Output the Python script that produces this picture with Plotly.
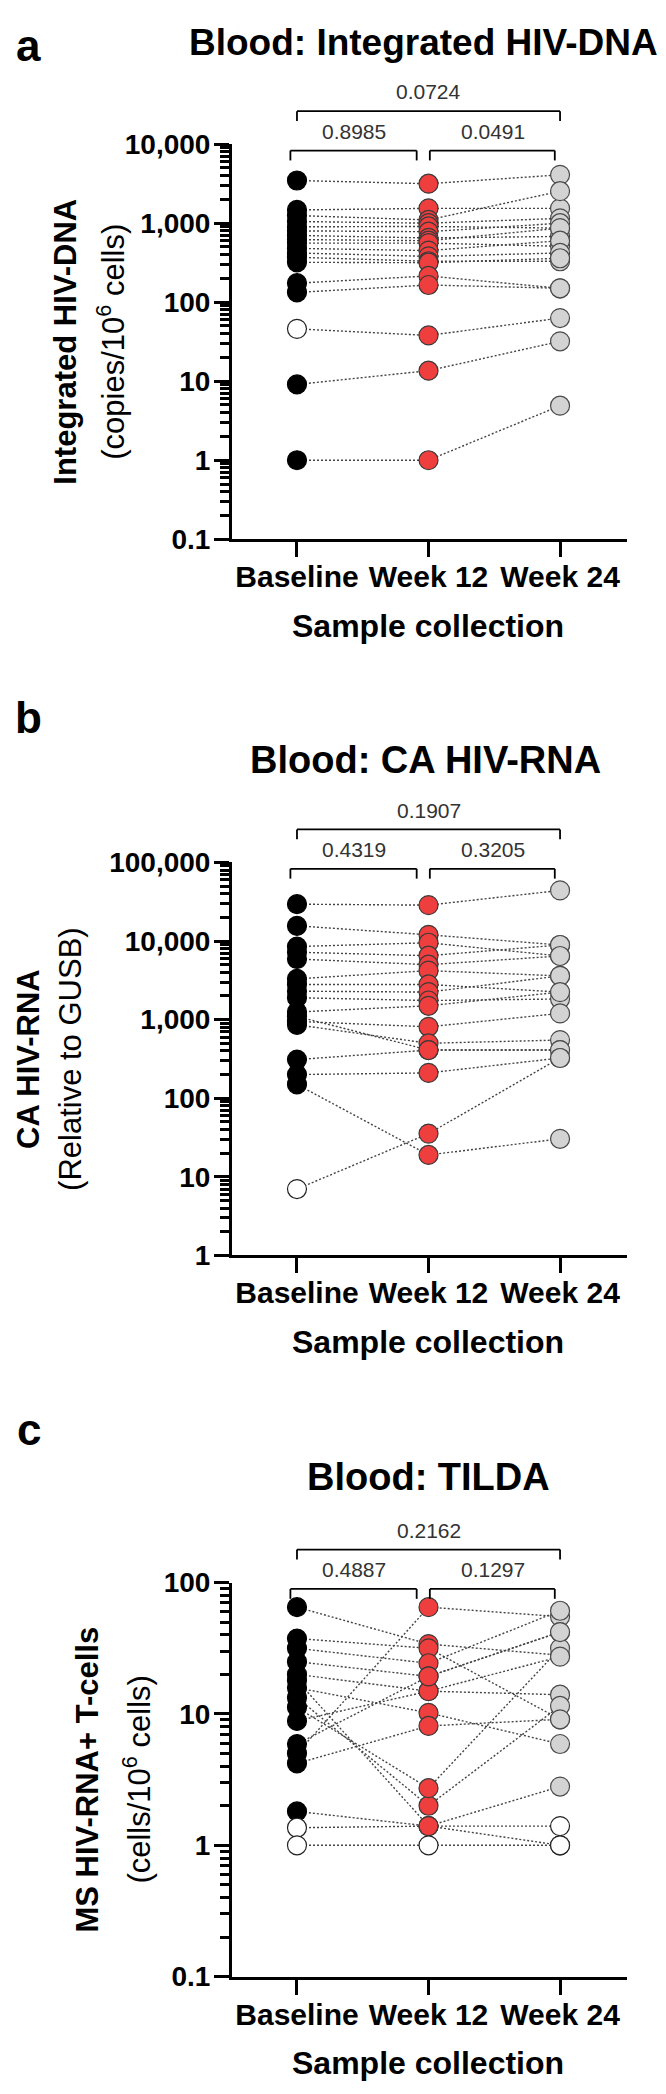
import plotly.graph_objects as go

W, H = 666, 2094
FONT = "Liberation Sans"

categories = ["Baseline", "Week 12", "Week 24"]

# ---------------- Panel a: Integrated HIV-DNA (copies/10^6 cells) ----------------
a_baseline = [3470, 1470, 1250, 1050, 900, 800, 700, 620, 560, 480, 420, 370, 320, 174, 133, 46, 9.1, 1]
a_week12 = [3160, 1540, 1100, 1000, 910, 780, 650, 600, 560, 450, 380, 330, 316, 215, 165, 38, 13.6, 1]
a_week24 = [4090, 1540, 2540, 1150, 866, 1000, 680, 866, 510, 600, 420, 330, 360, 150, 150, 63, 32, 4.9]
a_open = [[15], [], []]          # below detection limit (open symbols), per time point
a_tickvals = [0.1, 1, 10, 100, 1000, 10000]
a_ticktext = ["0.1", "1", "10", "100", "1,000", "10,000"]
a_pvalues = ["0.8985", "0.0491", "0.0724"]   # BL-W12, W12-W24, BL-W24

# ---------------- Panel b: CA HIV-RNA (relative to GUSB) ----------------
b_baseline = [29400, 15600, 8500, 7200, 5900, 3300, 2800, 2300, 1900, 1250, 950, 860, 1100, 310, 200, 150, 7]
b_week12 = [28600, 12000, 9500, 6500, 5000, 4200, 2800, 2240, 1750, 1500, 810, 500, 410, 410, 210, 19, 35.5]
b_week24 = [44000, 8900, 6450, 8900, 6450, 3600, 2240, 3600, 1830, 2240, 1200, 550, 410, 410, 325, 30.5, 325]
b_open = [[16], [], []]
b_tickvals = [1, 10, 100, 1000, 10000, 100000]
b_ticktext = ["1", "10", "100", "1,000", "10,000", "100,000"]
b_pvalues = ["0.4319", "0.3205", "0.1907"]

# ---------------- Panel c: TILDA (cells/10^6 cells) ----------------
c_baseline = [65, 5.0, 37.5, 31.6, 25, 20, 15.8, 13.3, 11.2, 8.85, 4.2, 5.9, 1.81, 1.36, 1.0, 18]
c_week12 = [34, 65, 31.6, 24.3, 19.3, 14.9, 10.2, 2.0, 2.72, 14.9, 8.1, 19.3, 1.40, 1.40, 1.0, 1.40]
c_week24 = [28, 55, 9.1, 61, 42, 14, 5.9, 11.5, 31.6, 27.3, 9.1, 42, 2.8, 1.40, 1.0, 1.0]
c_open = [[13, 14], [14], [13, 14, 15]]
c_tickvals = [0.1, 1, 10, 100]
c_ticktext = ["0.1", "1", "10", "100"]
c_pvalues = ["0.4887", "0.1297", "0.2162"]

panels = [
    dict(letter="a", title="Blood: Integrated HIV-DNA",
         ytitle_bold="Integrated HIV-DNA", ytitle_reg="(copies/10<sup>6</sup> cells)",
         data=[a_baseline, a_week12, a_week24], open=a_open,
         tickvals=a_tickvals, ticktext=a_ticktext, p=a_pvalues,
         yr=[-1, 4], top=123, bottom=524, title_y=20, title_x=415, title_size=37,
         letter_y=23, ybold_x=58, yreg_x=103),
    dict(letter="b", title="Blood: CA HIV-RNA",
         ytitle_bold="CA HIV-RNA", ytitle_reg="(Relative to GUSB)",
         data=[b_baseline, b_week12, b_week24], open=b_open,
         tickvals=b_tickvals, ticktext=b_ticktext, p=b_pvalues,
         yr=[0, 5], top=852, bottom=1251, title_y=748, title_x=418, title_size=38,
         letter_y=705, ybold_x=21, yreg_x=63),
    dict(letter="c", title="Blood: TILDA",
         ytitle_bold="MS HIV-RNA+ T-cells", ytitle_reg="(cells/10<sup>6</sup> cells)",
         data=[c_baseline, c_week12, c_week24], open=c_open,
         tickvals=c_tickvals, ticktext=c_ticktext, p=c_pvalues,
         yr=[-1, 2], top=1583, bottom=1983, title_y=1476, title_x=420, title_size=38,
         letter_y=1428, ybold_x=80, yreg_x=129),
]

fill_colors = ["#000000", "#EE3E3E", "#D3D3D3"]
edge_colors = ["#000000", "#3a3a3a", "#4a4a4a"]

X_LEFT, X_RIGHT = 224, 619
XRANGE = [-0.494, 2.509]


def px(x):
    return x / W


def py(y):
    return 1 - y / H


def minor_vals(lo, hi):
    out = []
    for d in range(lo, hi):
        for m in range(2, 10):
            out.append(m * 10.0 ** d)
    return out


fig = go.Figure()
annotations = []
shapes = []
layout = {}

for k, p in enumerate(panels):
    sfx = "" if k == 0 else str(k + 1)
    xa, ya = "x" + sfx, "y" + sfx
    base, w12, w24 = p["data"]
    # dotted connecting lines, one per participant
    for i in range(len(base)):
        fig.add_trace(go.Scatter(
            x=[0, 1, 2], y=[base[i], w12[i], w24[i]], mode="lines",
            line=dict(color="#444444", width=1.4, dash="2px,2px"),
            xaxis=xa, yaxis=ya, showlegend=False, hoverinfo="skip"))
    # symbols per time point (open = below detection limit)
    for t, vals in enumerate(p["data"]):
        open_idx = set(p["open"][t])
        filled = [v for i, v in enumerate(vals) if i not in open_idx]
        hollow = [v for i, v in enumerate(vals) if i in open_idx]
        fig.add_trace(go.Scatter(
            x=[t] * len(filled), y=filled, mode="markers",
            marker=dict(size=19, color=fill_colors[t],
                        line=dict(color=edge_colors[t], width=1.2)),
            xaxis=xa, yaxis=ya, showlegend=False, name=categories[t]))
        if hollow:
            fig.add_trace(go.Scatter(
                x=[t] * len(hollow), y=hollow, mode="markers",
                marker=dict(size=19, color="white",
                            line=dict(color="#222222", width=1.2)),
                xaxis=xa, yaxis=ya, showlegend=False, name=categories[t]))

    layout["xaxis" + sfx] = dict(
        domain=[px(X_LEFT), px(X_RIGHT)], anchor=ya, range=XRANGE,
        tickmode="array", tickvals=[0, 1, 2], ticktext=categories,
        ticks="outside", ticklen=15, tickwidth=3, tickcolor="black",
        showline=True, linewidth=3, linecolor="black",
        showgrid=False, zeroline=False, ticklabelstandoff=-6,
        tickfont=dict(family=FONT, size=30, color="black", weight="bold"))
    layout["yaxis" + sfx] = dict(
        domain=[py(p["bottom"]), py(p["top"])], anchor=xa, type="log",
        range=p["yr"], tickmode="array", tickvals=p["tickvals"], ticktext=p["ticktext"],
        ticks="outside", ticklen=15, tickwidth=3, tickcolor="black",
        showline=True, linewidth=3, linecolor="black",
        showgrid=False, zeroline=False, ticklabelstandoff=-2,
        tickfont=dict(family=FONT, size=28, color="black", weight="bold"),
        minor=dict(ticks="outside", ticklen=9, tickwidth=2.5, tickcolor="black",
                   tickmode="array", tickvals=minor_vals(p["yr"][0], p["yr"][1]),
                   showgrid=False))

    annotations.append(dict(text="<b>%s</b>" % p["letter"], x=px(21), y=py(p["letter_y"]),
                            xref="paper", yref="paper", showarrow=False,
                            xanchor="center", yanchor="middle",
                            font=dict(family=FONT, size=44, color="black")))
    annotations.append(dict(text="<b>%s</b>" % p["title"], x=px(p["title_x"]), y=py(p["title_y"]),
                            xref="paper", yref="paper", showarrow=False,
                            xanchor="center", yanchor="middle",
                            font=dict(family=FONT, size=p["title_size"], color="black")))
    ymid = py((p["top"] + p["bottom"]) / 2)
    annotations.append(dict(text="<b>%s</b>" % p["ytitle_bold"], x=px(p["ybold_x"]), y=ymid,
                            xref="paper", yref="paper", showarrow=False, textangle=-90,
                            xanchor="center", yanchor="middle",
                            font=dict(family=FONT, size=31, color="black")))
    annotations.append(dict(text=p["ytitle_reg"], x=px(p["yreg_x"]), y=ymid,
                            xref="paper", yref="paper", showarrow=False, textangle=-90,
                            xanchor="center", yanchor="middle",
                            font=dict(family=FONT, size=31, color="black")))
    annotations.append(dict(text="<b>Sample collection</b>", x=px(420.5), y=py(p["bottom"] + 88),
                            xref="paper", yref="paper", showarrow=False,
                            xanchor="center", yanchor="middle",
                            font=dict(family=FONT, size=32, color="black")))

    # significance brackets with p-values
    top = p["top"]
    brackets = [(-0.05, 0.91, top + 6.5, top - 13, 0.43, p["p"][0]),
                (1.01, 1.96, top + 6.5, top - 13, 1.49, p["p"][1]),
                (0.0, 2.0, top - 33.5, top - 53, 1.0, p["p"][2])]
    for x0, x1, yb, yt, xt, txt in brackets:
        for seg in [(x0, yb, x1, yb), (x0, yb, x0, yb + 10), (x1, yb, x1, yb + 10)]:
            shapes.append(dict(type="line", xref=xa, yref="paper",
                               x0=seg[0], y0=py(seg[1]), x1=seg[2], y1=py(seg[3]),
                               line=dict(color="black", width=1.8)))
        annotations.append(dict(text=txt, x=xt, y=py(yt), xref=xa, yref="paper",
                                showarrow=False, xanchor="center", yanchor="middle",
                                font=dict(family=FONT, size=21, color="#333333")))

fig.update_layout(
    width=W, height=H, margin=dict(l=0, r=0, t=0, b=0),
    paper_bgcolor="white", plot_bgcolor="white",
    showlegend=False, annotations=annotations, shapes=shapes, **layout)

fig.write_html("out.html")
